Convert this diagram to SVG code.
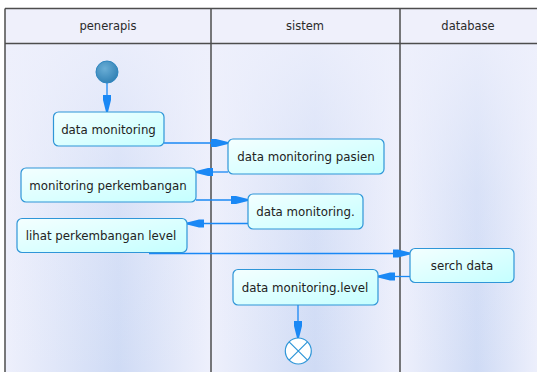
<svg xmlns="http://www.w3.org/2000/svg" width="537" height="374" viewBox="0 0 537 374">
<style>
.frame{stroke:#4d4d4d;stroke-width:1.5;fill:none}
.hdr{fill:#eff0fb}
.lane{fill:url(#laneGrad)}
.fade{fill:url(#fadeGrad)}
.hdrtxt{font-family:"DejaVu Sans",Verdana,sans-serif;font-size:11.5px;fill:#2a2a2a;text-anchor:middle}
.node rect{fill:url(#nodeGrad);stroke:#2f96d8;stroke-width:1.2}
.node text{font-family:"DejaVu Sans",Verdana,sans-serif;font-size:11.8px;fill:#222;text-anchor:middle}
.conn{stroke:#1a88f5;stroke-width:1.3;fill:none;marker-end:url(#arr)}
</style>
<defs>
<linearGradient id="laneGrad" x1="0" y1="0" x2="1" y2="0">
<stop offset="0" stop-color="#eef0fc"/>
<stop offset="0.55" stop-color="#cfdbf5"/>
<stop offset="1" stop-color="#eef0fc"/>
</linearGradient>
<linearGradient id="fadeGrad" x1="0" y1="0" x2="0" y2="1">
<stop offset="0" stop-color="#eef0fc" stop-opacity="0.85"/>
<stop offset="0.45" stop-color="#eef0fc" stop-opacity="0.3"/>
<stop offset="1" stop-color="#eef0fc" stop-opacity="0"/>
</linearGradient>
<linearGradient id="nodeGrad" x1="0" y1="0" x2="1" y2="1">
<stop offset="0" stop-color="#f4ffff"/>
<stop offset="1" stop-color="#c4ffff"/>
</linearGradient>
<radialGradient id="startGrad" cx="0.4" cy="0.35" r="0.7">
<stop offset="0" stop-color="#6aaed6"/>
<stop offset="1" stop-color="#2f7fb3"/>
</radialGradient>
<marker id="arr" markerUnits="userSpaceOnUse" markerWidth="20" markerHeight="12" viewBox="-18 -6 20 12" refX="0" refY="0" orient="auto">
<path d="M-17,-4 L-12,-4 L0,-1 L0,1 L-12,4 L-17,4 Z" fill="#1a88f5"/>
</marker>
</defs>

<g id="lanes">
<rect class="lane" x="5" y="43.5" width="206" height="328.5"/>
<rect class="lane" x="211" y="43.5" width="189" height="328.5"/>
<rect class="lane" x="400" y="43.5" width="140" height="328.5"/>
<rect class="fade" x="5" y="43.5" width="535" height="328.5"/>
<rect class="hdr" x="5" y="8.5" width="535" height="35"/>
<path class="frame" d="M5,8.5 H540 M5,43.5 H540 M5,8.5 V372 M211,8.5 V372 M400,8.5 V372"/>
<text class="hdrtxt" x="108" y="30">penerapis</text>
<text class="hdrtxt" x="305" y="30">sistem</text>
<text class="hdrtxt" x="468" y="30">database</text>
</g>

<g id="connectors">
<line class="conn" x1="107" y1="83" x2="107" y2="112"/>
<line class="conn" x1="164" y1="143" x2="228" y2="143"/>
<line class="conn" x1="228" y1="172" x2="196" y2="172"/>
<line class="conn" x1="196" y1="200" x2="248" y2="200"/>
<line class="conn" x1="248" y1="223.5" x2="187" y2="223.5"/>
<line class="conn" x1="149" y1="253.5" x2="410" y2="253.5"/>
<line class="conn" x1="410" y1="276.5" x2="378" y2="276.5"/>
<line class="conn" x1="298" y1="305" x2="298" y2="338"/>
</g>

<g id="start">
<circle cx="107" cy="72" r="11" fill="url(#startGrad)" stroke="#2e86c0" stroke-width="1"/>
</g>

<g id="n1" class="node">
<rect x="53.5" y="112" width="110.5" height="34" rx="5"/>
<text x="108.5" y="133.5">data monitoring</text>
</g>
<g id="n2" class="node">
<rect x="228" y="139" width="156" height="35" rx="5"/>
<text x="306" y="161">data monitoring pasien</text>
</g>
<g id="n3" class="node">
<rect x="21" y="168" width="175" height="34" rx="5"/>
<text x="108" y="189.5">monitoring perkembangan</text>
</g>
<g id="n4" class="node">
<rect x="248" y="194" width="115" height="35" rx="5"/>
<text x="305.5" y="216">data monitoring.</text>
</g>
<g id="n5" class="node">
<rect x="17" y="218.5" width="170" height="34" rx="5"/>
<text x="101" y="240">lihat perkembangan level</text>
</g>
<g id="n6" class="node">
<rect x="410" y="248.5" width="104" height="34" rx="5"/>
<text x="462" y="270">serch data</text>
</g>
<g id="n7" class="node">
<rect x="233" y="269.5" width="145" height="35.5" rx="5"/>
<text x="305" y="291.5">data monitoring.level</text>
</g>

<g id="end">
<circle cx="298.3" cy="351" r="13" fill="#ffffff" stroke="#2f96d8" stroke-width="1.2"/>
<path d="M289.1,341.8 L307.5,360.2 M307.5,341.8 L289.1,360.2" stroke="#2f96d8" stroke-width="1.2"/>
</g>
</svg>
